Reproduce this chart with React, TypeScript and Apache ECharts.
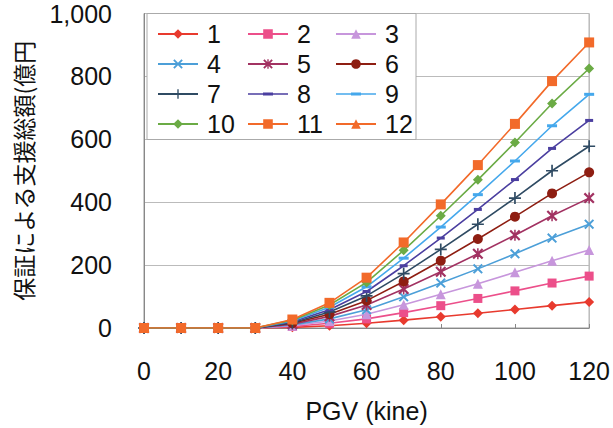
import React, { useEffect, useRef } from "react";
import * as echarts from "echarts";

const pgv = [0, 10, 20, 30, 40, 50, 60, 70, 80, 90, 100, 110, 120];
const seriesNames = ["1", "2", "3", "4", "5", "6", "7", "8", "9", "10", "11", "12"];
const s1 = [0, 0, 0, 0, 2, 7, 15, 25, 36, 47, 59, 71, 83];
const s2 = [0, 0, 0, 0, 5, 15, 29, 49, 71, 94, 118, 143, 165];
const s3 = [0, 0, 0, 0, 7, 22, 44, 74, 107, 141, 177, 214, 248];
const s4 = [0, 0, 0, 0, 10, 29, 58, 99, 143, 188, 236, 286, 330];
const s5 = [0, 0, 0, 0, 12, 37, 73, 124, 179, 236, 295, 357, 413];
const s6 = [0, 0, 0, 0, 15, 44, 87, 148, 214, 283, 354, 428, 495];
const s7 = [0, 0, 0, 0, 17, 51, 102, 173, 250, 330, 413, 500, 578];
const s8 = [0, 0, 0, 0, 20, 58, 116, 198, 286, 377, 472, 571, 660];
const s9 = [0, 0, 0, 0, 22, 66, 131, 222, 321, 424, 531, 643, 743];
const s10 = [0, 0, 0, 0, 25, 73, 145, 247, 357, 471, 590, 714, 825];
const s11 = [0, 0, 0, 0, 27, 80, 160, 272, 393, 518, 649, 785, 908];
const s12: number[] = [];
const allValues = [s1, s2, s3, s4, s5, s6, s7, s8, s9, s10, s11, s12];

const xTicks = { min: 0, max: 120, interval: 20 };
const yTicks = { min: 0, max: 1000, interval: 200 };

const X_PATH =
  "path://M0,1.4 L1.4,0 L5,3.6 L8.6,0 L10,1.4 L6.4,5 L10,8.6 L8.6,10 L5,6.4 L1.4,10 L0,8.6 L3.6,5 Z";
const PLUS_PATH =
  "path://M4.3,0 H5.7 V4.3 H10 V5.7 H5.7 V10 H4.3 V5.7 H0 V4.3 H4.3 Z";
const AST_PATH =
  "path://M0,1.4 L1.4,0 L5,3.6 L8.6,0 L10,1.4 L6.4,5 L10,8.6 L8.6,10 L5,6.4 L1.4,10 L0,8.6 L3.6,5 Z M4.3,0 H5.7 V10 H4.3 Z";
const DASH_LEGEND_PATH =
  "path://M0,5.2 H15 V4.5 H25 V5.2 H40 V6.8 H25 V7.5 H15 V6.8 H0 Z";

const colors = [
  "#e83a2e",
  "#ec4f8a",
  "#c796dc",
  "#4c9fd8",
  "#a23262",
  "#8e1e12",
  "#2f4b63",
  "#4b3fa0",
  "#45a8ec",
  "#6bab45",
  "#f26a2a",
  "#f26a2a",
];
const symbols: any[] = [
  "diamond",
  "rect",
  "triangle",
  X_PATH,
  AST_PATH,
  "circle",
  PLUS_PATH,
  "rect",
  "rect",
  "diamond",
  "rect",
  "triangle",
];
const symbolSizes: any[] = [10, 9, 10, 10, 11, 10, 12, [8, 3], [10, 3], 10, 10, 10];

const FONT = "'Liberation Sans', Arial, sans-serif";
const JP_FONT = "'Noto Sans CJK JP', sans-serif";

const legendItem = (name: string) =>
  name === "8" || name === "9" ? { name, icon: DASH_LEGEND_PATH } : { name };

export default function App() {
  const ref = useRef<HTMLDivElement>(null);
  useEffect(() => {
    if (!ref.current) return;
    const chart = echarts.init(ref.current, undefined, { renderer: "svg" });
    const legendCommon = {
      orient: "vertical" as const,
      top: 19,
      padding: 0,
      itemGap: 0,
      itemWidth: 40,
      itemHeight: 12,
      textStyle: {
        fontSize: 25,
        lineHeight: 30,
        color: "#111",
        fontFamily: FONT,
        padding: [0, 0, 0, 4],
      },
    };
    chart.setOption({
      animation: false,
      backgroundColor: "#fff",
      grid: {
        left: 144,
        right: 18,
        top: 13.5,
        bottom: 99.5,
        show: true,
        borderColor: "#999",
        borderWidth: 1,
        backgroundColor: "transparent",
      },
      graphic: [
        {
          type: "rect",
          z: 3,
          shape: { x: 147, y: 13.5, width: 269, height: 126 },
          style: { fill: "#fff", stroke: "#aaa", lineWidth: 1 },
        },
      ],
      legend: [
        { ...legendCommon, left: 157, data: ["1", "4", "7", "10"].map(legendItem) },
        { ...legendCommon, left: 247, data: ["2", "5", "8", "11"].map(legendItem) },
        { ...legendCommon, left: 335, data: ["3", "6", "9", "12"].map(legendItem) },
      ],
      xAxis: {
        type: "value",
        ...xTicks,
        name: "PGV (kine)",
        nameLocation: "middle",
        nameGap: 70,
        nameTextStyle: { fontSize: 25, color: "#111", fontFamily: FONT },
        axisLine: { show: true, lineStyle: { color: "#888", width: 1 } },
        axisTick: { show: true, inside: true, length: 4, lineStyle: { color: "#888" } },
        splitLine: { show: false },
        axisLabel: { fontSize: 25, color: "#111", fontFamily: FONT, margin: 30 },
      },
      yAxis: {
        type: "value",
        ...yTicks,
        name: "保証による支援総額(億円",
        nameLocation: "middle",
        nameRotate: 90,
        nameGap: 110,
        nameTextStyle: { fontSize: 23, color: "#111", fontFamily: JP_FONT },
        axisLine: { show: true, lineStyle: { color: "#888", width: 1 } },
        axisTick: { show: false },
        splitLine: { show: true, lineStyle: { color: "#bbb", width: 1 } },
        axisLabel: {
          fontSize: 25,
          color: "#111",
          fontFamily: FONT,
          margin: 32,
          padding: [8, 0, 0, 0],
          formatter: (v: number) => v.toLocaleString("en-US"),
        },
      },
      series: seriesNames.map((name, i) => ({
        name,
        type: "line",
        data: allValues[i].map((v, j) => [pgv[j], v]),
        symbol: symbols[i],
        symbolSize: symbolSizes[i],
        showAllSymbol: true,
        lineStyle: { color: colors[i], width: 1.6 },
        itemStyle: { color: colors[i], borderWidth: 0 },
        z: 2 + i * 0.01,
      })),
    });
    return () => chart.dispose();
  }, []);
  return (
    <div
      ref={ref}
      style={{ position: "absolute", left: 0, top: 0, width: 613, height: 428 }}
    />
  );
}
